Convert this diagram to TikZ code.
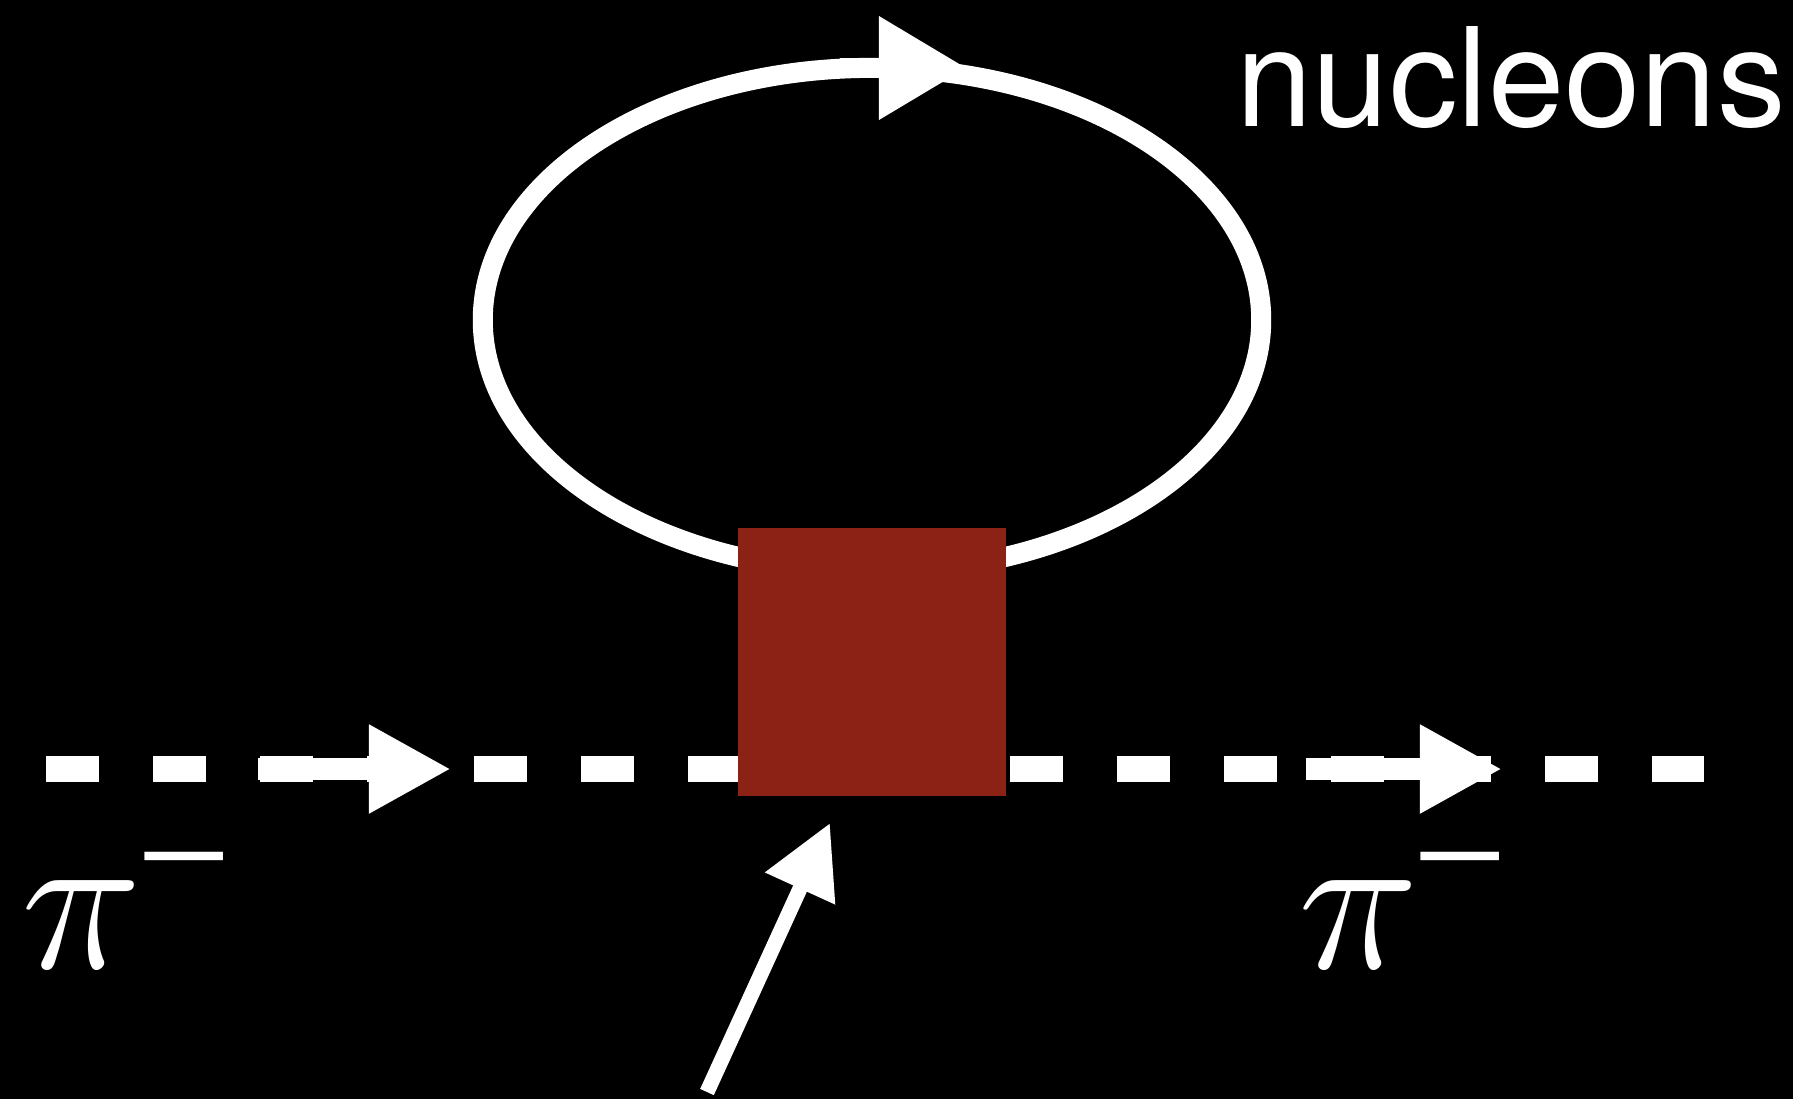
\RequirePackage{fix-cm}
\documentclass[tikz,border=0pt]{standalone}
\usepackage{fontspec}
\usetikzlibrary{arrows.meta,positioning}
\newfontfamily\labelfont{Liberation Serif}
\newfontfamily\nucfont{TeX Gyre Heros}
\definecolor{vertexred}{RGB}{140,33,22}

\begin{document}
\begin{tikzpicture}[x=0.01cm, y=-0.01cm,
    pion/.style={white, line width=0.26cm, dash pattern=on 0.53cm off 0.54cm},
    pionflow/.style={white, line width=0.22cm, -{Triangle[length=0.82cm, width=0.83cm]}},
    nucleon/.style={white, line width=0.2cm},
    nucleonflow/.style={white, line width=0.2cm, -{Triangle[length=0.88cm, width=0.98cm]}},
    probe/.style={white, line width=0.15cm, -{Triangle[length=0.72cm, width=0.73cm]}},
    vertexbox/.style={fill=vertexred, minimum width=2.67cm, minimum height=2.68cm, inner sep=0pt},
    pilabel/.style={white, inner sep=0pt, anchor=base west, font=\fontsize{58}{58}\selectfont}]
    % Background
    \fill[black] (0,0) rectangle (1793,1099);
    \useasboundingbox (0,0) rectangle (1793,1099);

    % End points
    \coordinate (pin) at (46,769);
    \coordinate (pout) at (1704,769);

    % Pion line
    \draw[pion] (pin) -- (pout);
    \draw[pionflow] (258,769) -- (451,769);
    \draw[pionflow] (1306,769) -- (1502,769);

    % Nucleon loop
    \draw[nucleon] (872,320) ellipse [x radius=3.89cm, y radius=2.52cm];
    \draw[nucleonflow] (840,68) -- (967,68);

    % Vertex
    \node[vertexbox] (vertex) at (872,662) {};

    % External probe
    \coordinate (probe) at (707,1092);
    \coordinate (probetip) at (830,823);
    \draw[probe] (probe) -- (probetip);

    % Labels
    \node[pilabel] (piin) at (21,968) {$\pi$\hspace{-0.06cm}\raisebox{15.9pt}{\labelfont\fontsize{48}{48}\selectfont −}};
    \node[pilabel] (piout) at (1298,968) {$\pi$\hspace{-0.07cm}\raisebox{15.9pt}{\labelfont\fontsize{48}{48}\selectfont −}};
    \node[white, inner sep=0pt, anchor=base west, font=\nucfont\fontsize{39}{39}\selectfont] (nuc) at (1236,126) {nucleons};
\end{tikzpicture}
\end{document}
